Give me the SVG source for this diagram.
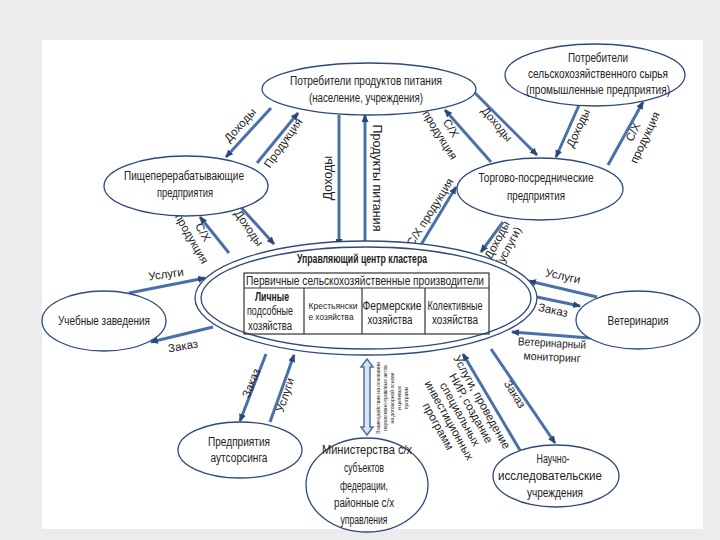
<svg xmlns="http://www.w3.org/2000/svg" width="720" height="540" viewBox="0 0 720 540">
<style>
text{font-family:"Liberation Sans Narrow","Liberation Sans",Arial,sans-serif;fill:#222;dominant-baseline:central;text-anchor:middle}
.n{font-size:12px}
.l{font-size:11.5px}
.node ellipse{fill:#fff;stroke:#2e4a7a;stroke-width:1.3}
.c{fill:none;stroke:#4a70a8;stroke-width:3;marker-end:url(#ah)}
.t{fill:none;stroke:#333;stroke-width:1.2}
</style>
<defs>
<marker id="ah" viewBox="0 0 8 7" refX="7" refY="3.5" markerWidth="8" markerHeight="7" markerUnits="userSpaceOnUse" orient="auto"><path d="M0,0L8,3.5L0,7z" fill="#2a4878"/></marker>
</defs>
<rect width="720" height="540" fill="#ececec"/>
<rect x="42" y="40" width="661" height="489" fill="#fff"/>

<g id="connectors">
<line class="c" x1="271" y1="108" x2="226" y2="157"/>
<text class="l" transform="translate(240,125) rotate(-48)">Доходы</text>
<line class="c" x1="257" y1="163" x2="298" y2="113"/>
<text class="l" transform="translate(283,143) rotate(-55)">Продукция</text>
<line class="c" x1="339" y1="115" x2="339" y2="246"/>
<text class="l" style="font-size:12.5px" transform="translate(328,178) rotate(-90)">Доходы</text>
<line class="c" x1="365" y1="246" x2="365" y2="115"/>
<text class="l" style="font-size:12.5px" transform="translate(377,178) rotate(90)">Продукты питания</text>
<line class="c" x1="491" y1="162" x2="445" y2="110"/>
<text class="l" transform="translate(451,128) rotate(58)"><tspan x="0" y="0">С/Х</tspan><tspan x="0" y="13">продукция</tspan></text>
<line class="c" x1="472" y1="90" x2="537" y2="155"/>
<text class="l" transform="translate(497,124) rotate(50)">Доходы</text>
<line class="c" x1="580" y1="103" x2="556" y2="157"/>
<text class="l" transform="translate(578,128) rotate(-65)">Доходы</text>
<line class="c" x1="608" y1="165" x2="643" y2="102"/>
<text class="l" transform="translate(633,132) rotate(-65)"><tspan x="0" y="0">С/Х</tspan><tspan x="0" y="13">продукция</tspan></text>
<line class="c" x1="229" y1="253" x2="200" y2="217"/>
<text class="l" transform="translate(203,232) rotate(60)"><tspan x="0" y="0">С/Х</tspan><tspan x="0" y="13">продукция</tspan></text>
<line class="c" x1="237" y1="203" x2="274" y2="244"/>
<text class="l" transform="translate(249,228) rotate(55)">Доходы</text>
<line class="c" x1="419" y1="248" x2="456" y2="187"/>
<text class="l" transform="translate(430,212) rotate(-58)">С/Х продукция</text>
<line class="c" x1="503" y1="222" x2="481" y2="252"/>
<text class="l" transform="translate(497,240) rotate(-62)"><tspan x="0" y="0">Доходы</tspan><tspan x="0" y="13">(услуги)</tspan></text>
<line class="c" x1="129" y1="293" x2="205" y2="278"/>
<text class="l" transform="translate(166,274) rotate(-8)">Услуги</text>
<line class="c" x1="213" y1="327" x2="151" y2="342"/>
<text class="l" transform="translate(183,346) rotate(-10)">Заказ</text>
<line class="c" x1="597" y1="297" x2="529" y2="281"/>
<text class="l" transform="translate(563,276) rotate(12)">Услуги</text>
<line class="c" x1="537" y1="297" x2="580" y2="306"/>
<text class="l" transform="translate(553,310) rotate(12)">Заказ</text>
<line class="c" x1="590" y1="338" x2="512" y2="332"/>
<text class="l" textLength="68" lengthAdjust="spacingAndGlyphs" transform="translate(552,343) rotate(3)">Ветеринарный</text>
<text class="l" textLength="57" lengthAdjust="spacingAndGlyphs" transform="translate(552,357) rotate(3)">мониторинг</text>
<line class="c" x1="266" y1="354" x2="240" y2="421"/>
<text class="l" transform="translate(251,383) rotate(-68)">Заказ</text>
<line class="c" x1="270" y1="422" x2="294" y2="355"/>
<text class="l" transform="translate(285,395) rotate(-72)">Услуги</text>
<polygon points="367,359 373,367 370,367 370,427 373,427 367,435 361,427 364,427 364,367 361,367" fill="#d9e3f1" stroke="#4a70a8" stroke-width="1.5"/>
<text style="font-size:5px" transform="translate(398,398) rotate(-90)"><tspan x="0" y="-20">Взаимодействие на основании</tspan><tspan x="0" y="-13">нормативно-правовых актов</tspan><tspan x="0" y="-6">на договорной основе</tspan><tspan x="0" y="1">и целевых</tspan><tspan x="0" y="8">программ</tspan></text>
<line class="c" x1="521" y1="452" x2="463" y2="354"/>
<text class="l" transform="translate(482,402) rotate(61)"><tspan x="0" y="0">Услуги, проведение</tspan><tspan x="0" y="12.5">НИР, создание</tspan><tspan x="0" y="25">специальных</tspan><tspan x="0" y="37.5">инвестиционных</tspan><tspan x="0" y="50">программ</tspan></text>
<line class="c" x1="491" y1="349" x2="555" y2="443"/>
<text class="l" transform="translate(515,394) rotate(58)">Заказ</text>
</g>

<g id="n1" class="node"><ellipse cx="369" cy="89" rx="107" ry="26"/>
<text class="n" x="366" y="81" textLength="152" lengthAdjust="spacingAndGlyphs">Потребители продуктов питания</text>
<text class="n" x="366" y="98" textLength="114" lengthAdjust="spacingAndGlyphs">(население, учреждения)</text></g>
<g id="n2" class="node"><ellipse cx="595" cy="75" rx="90" ry="31"/>
<text class="n" x="598" y="58" textLength="60" lengthAdjust="spacingAndGlyphs">Потребители</text>
<text class="n" x="598" y="74" textLength="140" lengthAdjust="spacingAndGlyphs">сельскохозяйственного сырья</text>
<text class="n" x="598" y="90" textLength="144" lengthAdjust="spacingAndGlyphs">(промышленные предприятия)</text></g>
<g id="n3" class="node"><ellipse cx="186" cy="186" rx="82" ry="30"/>
<text class="n" x="184" y="176" textLength="120" lengthAdjust="spacingAndGlyphs">Пищеперерабатывающие</text>
<text class="n" x="185" y="193" textLength="56" lengthAdjust="spacingAndGlyphs">предприятия</text></g>
<g id="n4" class="node"><ellipse cx="540" cy="189" rx="83" ry="31"/>
<text class="n" x="536" y="178" textLength="115" lengthAdjust="spacingAndGlyphs">Торгово-посреднические</text>
<text class="n" x="536" y="196" textLength="58" lengthAdjust="spacingAndGlyphs">предприятия</text></g>
<g id="center" class="node">
<ellipse cx="366" cy="298" rx="171" ry="57"/>
<ellipse cx="366" cy="298" rx="165" ry="51"/>
<text x="362" y="259" style="font-size:12px;font-weight:bold" textLength="130" lengthAdjust="spacingAndGlyphs">Управляющий центр кластера</text>
<rect class="t" x="244" y="273" width="245" height="61"/>
<line class="t" x1="244" y1="288" x2="489" y2="288"/>
<line class="t" x1="304" y1="288" x2="304" y2="334"/>
<line class="t" x1="362" y1="288" x2="362" y2="334"/>
<line class="t" x1="425" y1="288" x2="425" y2="334"/>
<text x="365" y="281" style="font-size:12px" textLength="238" lengthAdjust="spacingAndGlyphs">Первичные сельскохозяйственные производители</text>
<text x="272" y="297" style="font-size:12px;font-weight:bold" textLength="34" lengthAdjust="spacingAndGlyphs">Личные</text>
<text x="270" y="311" style="font-size:12px" textLength="46" lengthAdjust="spacingAndGlyphs">подсобные</text>
<text x="270" y="326" style="font-size:12px" textLength="44" lengthAdjust="spacingAndGlyphs">хозяйства</text>
<text x="333" y="306" style="font-size:9px" textLength="49" lengthAdjust="spacingAndGlyphs">Крестьянски</text>
<text x="331" y="317" style="font-size:9px" textLength="45" lengthAdjust="spacingAndGlyphs">е хозяйства</text>
<text x="392" y="306" style="font-size:12px" textLength="59" lengthAdjust="spacingAndGlyphs">Фермерские</text>
<text x="390" y="320" style="font-size:12px" textLength="45" lengthAdjust="spacingAndGlyphs">хозяйства</text>
<text x="455" y="306" style="font-size:12px" textLength="55" lengthAdjust="spacingAndGlyphs">Колективные</text>
<text x="455" y="320" style="font-size:12px" textLength="46" lengthAdjust="spacingAndGlyphs">хозяйства</text>
</g>
<g id="n6" class="node"><ellipse cx="104" cy="321" rx="62" ry="30"/><text class="n" x="104" y="321" textLength="92" lengthAdjust="spacingAndGlyphs">Учебные заведения</text></g>
<g id="n7" class="node"><ellipse cx="638" cy="320" rx="62" ry="29"/><text class="n" x="638" y="321" textLength="61" lengthAdjust="spacingAndGlyphs">Ветеринария</text></g>
<g id="n8" class="node"><ellipse cx="240" cy="450" rx="62" ry="28"/>
<text class="n" x="239" y="442" textLength="62" lengthAdjust="spacingAndGlyphs">Предприятия</text>
<text class="n" x="239" y="458" textLength="57" lengthAdjust="spacingAndGlyphs">аутсорсинга</text></g>
<g id="n9" class="node"><ellipse cx="367" cy="485" rx="61" ry="47"/>
<text class="n" x="367" y="450" textLength="90" lengthAdjust="spacingAndGlyphs">Министерства с/х</text>
<text class="n" x="364" y="468" textLength="40" lengthAdjust="spacingAndGlyphs">субъектов</text>
<text class="n" x="364" y="486" textLength="48" lengthAdjust="spacingAndGlyphs">федерации,</text>
<text class="n" x="364" y="503" textLength="60" lengthAdjust="spacingAndGlyphs">районные с/х</text>
<text class="n" x="364" y="520" textLength="47" lengthAdjust="spacingAndGlyphs">управления</text></g>
<g id="n10" class="node"><ellipse cx="556" cy="476" rx="63" ry="31"/>
<text class="n" x="553" y="459" textLength="33" lengthAdjust="spacingAndGlyphs">Научно-</text>
<text class="n" x="550" y="476" textLength="104" lengthAdjust="spacingAndGlyphs">исследовательские</text>
<text class="n" x="555" y="493" textLength="56" lengthAdjust="spacingAndGlyphs">учреждения</text></g>
</svg>
